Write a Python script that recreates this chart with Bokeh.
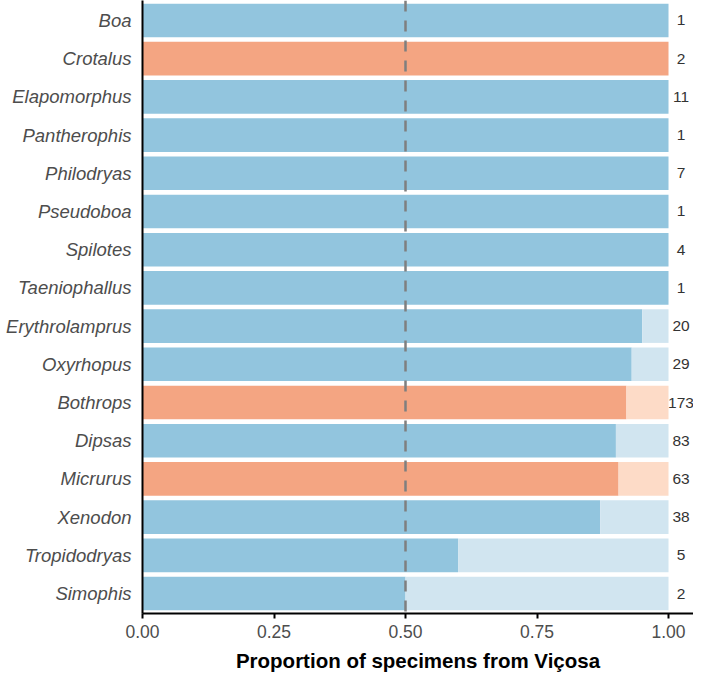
from bokeh.plotting import figure
from bokeh.models import Range1d, FixedTicker, Span, ColumnDataSource, NumeralTickFormatter
from bokeh.core.properties import value
from bokeh.embed import file_html
from bokeh.resources import INLINE

genera = ["Boa", "Crotalus", "Elapomorphus", "Pantherophis", "Philodryas", "Pseudoboa",
          "Spilotes", "Taeniophallus", "Erythrolamprus", "Oxyrhopus", "Bothrops", "Dipsas",
          "Micrurus", "Xenodon", "Tropidodryas", "Simophis"]
counts = [1, 2, 11, 1, 7, 1, 4, 1, 20, 29, 173, 83, 63, 38, 5, 2]
prop_vicosa = [1.0, 1.0, 1.0, 1.0, 1.0, 1.0, 1.0, 1.0, 0.95, 0.93, 0.92, 0.90, 0.905, 0.87, 0.60, 0.50]
venomous = ["Crotalus", "Bothrops", "Micrurus"]
x_ticks = [0, 0.25, 0.5, 0.75, 1.0]

DARK = {"no": "#92C5DE", "yes": "#F4A582"}
LIGHT = {"no": "#D1E5F0", "yes": "#FDDBC7"}
FONT = "Liberation Sans"

n = len(genera)
ypos = [n - i for i in range(n)]
grp = ["yes" if g in venomous else "no" for g in genera]

src = ColumnDataSource(dict(
    y=ypos,
    prop=prop_vicosa,
    one=[1.0] * n,
    zero=[0.0] * n,
    dark=[DARK[g] for g in grp],
    light=[LIGHT[g] for g in grp],
    lab=[str(c) for c in counts],
    lx=[1.0238] * n,
))

p = figure(width=693, height=674, output_backend="svg", toolbar_location=None,
           x_range=Range1d(0, 1.0475), y_range=Range1d(0.478, 16.522),
           min_border_left=142, min_border_right=0, min_border_top=0, min_border_bottom=59)

p.hbar(y="y", left="zero", right="prop", height=0.88, fill_color="dark", line_color=None, source=src)
p.hbar(y="y", left="prop", right="one", height=0.88, fill_color="light", line_color=None, source=src)

p.text(x="lx", y="y", text="lab", source=src, text_align="center", text_baseline="middle",
       text_font=value(FONT), text_font_size="15.5px", text_color="#333333")

p.add_layout(Span(location=0.5, dimension="height", line_color="#7f7f7f",
                  line_dash="11 9", line_width=2.5))

p.xgrid.visible = False
p.ygrid.visible = False
p.outline_line_color = None
p.background_fill_color = "white"
p.border_fill_color = "white"

xa = p.xaxis[0]
xa.ticker = FixedTicker(ticks=x_ticks)
xa.formatter = NumeralTickFormatter(format="0.00")
xa.axis_line_color = "black"
xa.axis_line_width = 2
xa.major_tick_line_color = "black"
xa.major_tick_line_width = 2
xa.major_tick_out = 5
xa.major_tick_in = 0
xa.minor_tick_out = 0
xa.minor_tick_in = 0
xa.major_label_text_font = FONT
xa.major_label_text_font_size = "17.5px"
xa.major_label_text_color = "#4d4d4d"
xa.major_label_standoff = 6
xa.axis_label = "Proportion of specimens from Viçosa"
xa.axis_label_text_font = FONT
xa.axis_label_text_font_size = "20.5px"
xa.axis_label_text_font_style = "bold"
xa.axis_label_text_color = "black"
xa.axis_label_standoff = 8

ya = p.yaxis[0]
ya.ticker = FixedTicker(ticks=ypos)
ya.major_label_overrides = {y: g for y, g in zip(ypos, genera)}
ya.axis_line_color = "black"
ya.axis_line_width = 2
ya.major_tick_out = 0
ya.major_tick_in = 0
ya.minor_tick_out = 0
ya.minor_tick_in = 0
ya.major_label_text_font = FONT
ya.major_label_text_font_size = "18.5px"
ya.major_label_text_font_style = "italic"
ya.major_label_text_color = "#4d4d4d"
ya.major_label_standoff = 11

open("out.html", "w").write(file_html(p, INLINE))
